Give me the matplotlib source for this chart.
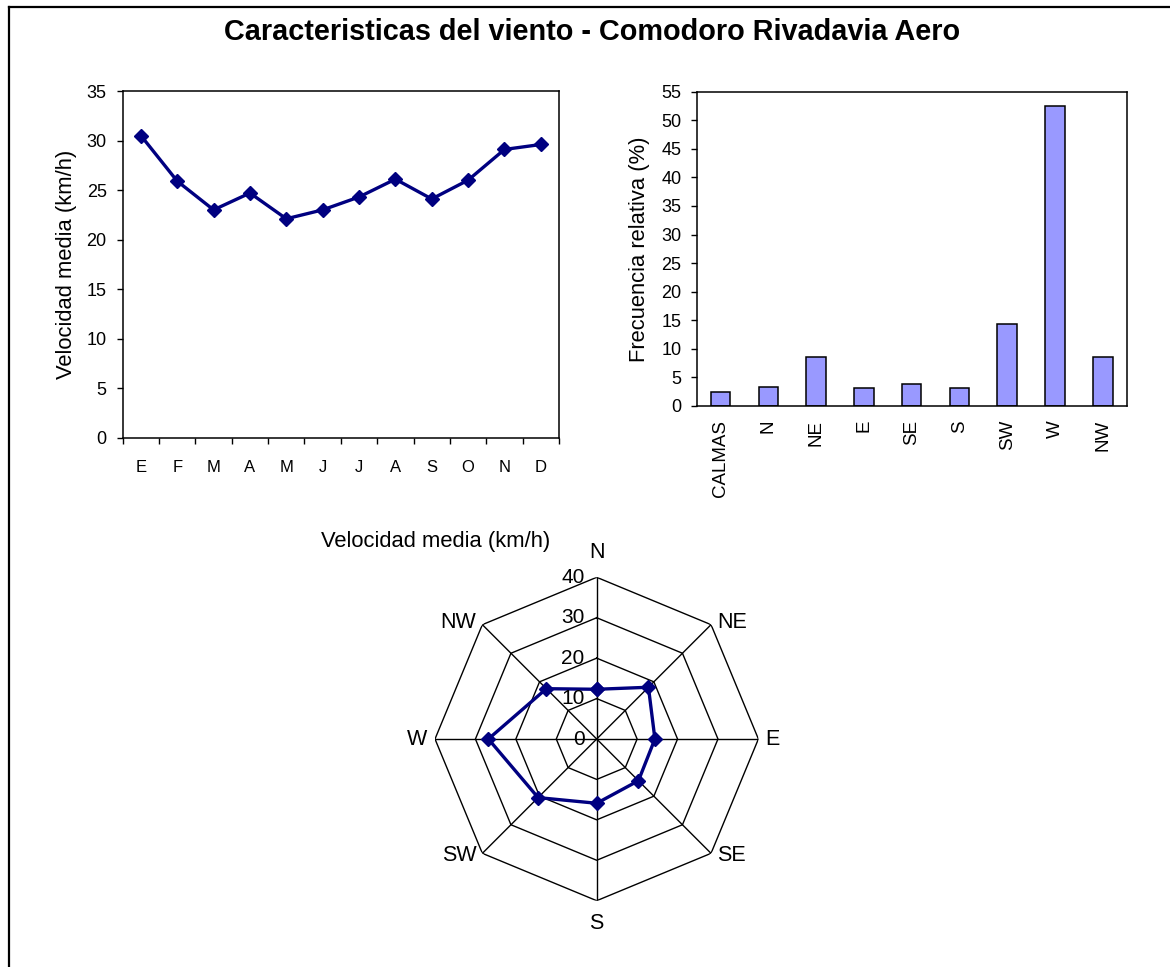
import numpy as np
import matplotlib
matplotlib.use("Agg")
import matplotlib.pyplot as plt
from matplotlib.lines import Line2D

plt.rcParams['font.family'] = ['Liberation Sans', 'DejaVu Sans']

# monthly mean wind speed (km/h)
meses = ["E", "F", "M", "A", "M", "J", "J", "A", "S", "O", "N", "D"]
vel_mensual = [30.5, 25.9, 23.0, 24.7, 22.1, 23.0, 24.3, 26.1, 24.1, 26.0, 29.1, 29.6]

# relative frequency by direction (%)
dir_frec = ["CALMAS", "N", "NE", "E", "SE", "S", "SW", "W", "NW"]
frec_rel = [2.4, 3.4, 8.6, 3.1, 3.8, 3.1, 14.3, 52.5, 8.6]

# mean speed by direction (km/h)
dir_rosa = ["N", "NE", "E", "SE", "S", "SW", "W", "NW"]
vel_dir = [12.3, 18.1, 14.4, 14.6, 15.9, 20.5, 26.8, 17.6]
anillos = [10, 20, 30, 40]

navy = "#000080"
W, H = 1170, 967
fig = plt.figure(figsize=(W / 100, H / 100), dpi=100)

# outer border (left and top only, rest is cropped)
fig.add_artist(Line2D([9 / W, 9 / W], [0, 1 - 7 / H], color="black", lw=1.6))
fig.add_artist(Line2D([9 / W, 1], [1 - 7 / H, 1 - 7 / H], color="black", lw=1.6))

fig.text(592 / W, 1 - 40 / H, "Caracteristicas del viento - Comodoro Rivadavia Aero",
         ha="center", va="baseline", fontsize=20.8, fontweight="bold")

# --- line chart: monthly speed
ax1 = fig.add_axes([122.7 / W, 1 - 437.7 / H, 436.3 / W, 346.7 / H])
x = np.arange(len(meses))
ax1.plot(x, vel_mensual, color=navy, lw=2.4, marker="D", ms=7)
ax1.set_xlim(-0.5, len(meses) - 0.5)
ax1.set_ylim(0, 35)
ax1.set_yticks(range(0, 36, 5))
ax1.set_xticks(np.arange(-0.5, len(meses), 1))
ax1.set_xticklabels([])
ax1.set_xticks(x, minor=True)
ax1.set_xticklabels(meses, minor=True, fontsize=12)
ax1.tick_params(axis="x", which="major", direction="out", length=4.5, width=1)
ax1.tick_params(axis="x", which="minor", length=0, pad=16)
ax1.tick_params(axis="y", direction="out", length=4.5, width=1, pad=7, labelsize=13)
ax1.set_ylabel("Velocidad media (km/h)", fontsize=15.8, labelpad=7)
for s in ax1.spines.values():
    s.set_linewidth(1.1)

# --- bar chart: frequency by direction
ax2 = fig.add_axes([696.7 / W, 1 - 406 / H, 430 / W, 314.3 / H])
xb = np.arange(len(dir_frec))
ax2.bar(xb, frec_rel, width=0.41, color="#9999FF", edgecolor="black", lw=1.1)
ax2.set_xlim(-0.5, len(dir_frec) - 0.5)
ax2.set_ylim(0, 55)
ax2.set_yticks(range(0, 56, 5))
ax2.set_xticks(xb)
ax2.set_xticklabels(dir_frec, rotation=90, fontsize=13.5)
ax2.tick_params(axis="x", length=0, pad=10)
ax2.tick_params(axis="y", direction="out", length=4.5, width=1, pad=6.5, labelsize=13)
ax2.set_ylabel("Frecuencia relativa (%)", fontsize=15.8, labelpad=8)
for s in ax2.spines.values():
    s.set_linewidth(1.1)

# --- radar: speed by direction
cx, cy, R = 596.7, 739, 161.7
ax3 = fig.add_axes([(cx - R) / W, 1 - (cy + R) / H, 2 * R / W, 2 * R / H], projection="polar")
ax3.set_theta_zero_location("N")
ax3.set_theta_direction(-1)
ax3.set_ylim(0, 40)
ax3.set_xticks([])
ax3.set_yticks([])
ax3.grid(False)
ax3.spines["polar"].set_visible(False)
ang = np.deg2rad(np.arange(0, 360, 45))
ang_c = np.append(ang, ang[0])
for r in anillos:
    ax3.plot(ang_c, [r] * len(ang_c), color="black", lw=1.0)
for a in ang:
    ax3.plot([a, a], [0, 40], color="black", lw=1.0)
ax3.plot(ang_c, vel_dir + vel_dir[:1], color=navy, lw=2.4, marker="D", ms=7, clip_on=False)
# label offsets from the outer vertex, pixels
lab_off = [(0, 25), (21, 2), (14, 0), (20, -2), (0, -23), (-23, -2), (-18, 0), (-24, 2)]
for a, lab, off in zip(ang, dir_rosa, lab_off):
    ax3.annotate(lab, xy=(a, 40), xytext=off, textcoords="offset pixels",
                 ha="center", va="center", fontsize=15.5)
for r in [0] + anillos:
    ax3.annotate(str(r), xy=(0, r), xytext=(-12, 0), textcoords="offset pixels",
                 ha="right", va="center", fontsize=15)
fig.text(435.5 / W, 1 - 541.7 / H, "Velocidad media (km/h)", ha="center", va="center",
         fontsize=15.8)

fig.savefig("out.png", dpi=100)
